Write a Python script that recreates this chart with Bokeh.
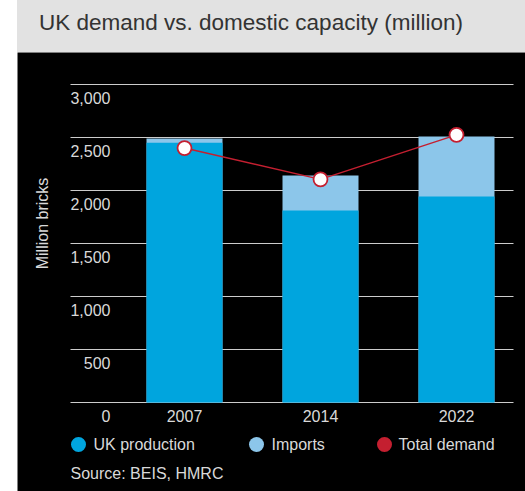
import math
from bokeh.plotting import figure
from bokeh.models import Div, Spacer, Range1d
from bokeh.layouts import row, column
from bokeh.embed import file_html
from bokeh.resources import INLINE
from bokeh.core.properties import value

# ---- data ----
years = ["2007", "2014", "2022"]
uk_production = [2450, 1811, 1943]
imports = [40, 331, 566]
total_demand = [2400, 2105, 2525]
y_ticks = [0, 500, 1000, 1500, 2000, 2500, 3000]
y_tick_labels = ["0", "500", "1,000", "1,500", "2,000", "2,500", "3,000"]
legend_labels = ["UK production", "Imports", "Total demand"]
title_text = "UK demand vs. domestic capacity (million)"
source_text = "Source: BEIS, HMRC"
y_label = "Million bricks"

# ---- style ----
PROD = "#00a5de"
IMP = "#8cc6ea"
RED = "#c41f30"
TXT = "#d9d9d9"
FONT = "Liberation Sans"

W, H = 508, 439
# pixel <-> data helpers (pixels relative to the whole 525x491 image)
X0PX, XSTEP = 184.0, 136.0      # centre of first category, spacing
Y0PX, YSCALE = 402.0, 0.106     # pixel of value 0, pixels per unit
LEFT, TOP = 17.0, 52.0

def px_x(px):
    return (px - X0PX) / XSTEP

def px_y(py):
    return (Y0PX - py) / YSCALE

xs = list(range(len(years)))
tops = [a + b for a, b in zip(uk_production, imports)]

p = figure(width=W, height=H,
           x_range=Range1d(px_x(LEFT), px_x(LEFT + W)),
           y_range=Range1d(px_y(TOP + H), px_y(TOP)),
           x_axis_location=None, y_axis_location=None,
           output_backend="svg", toolbar_location=None,
           min_border=0, margin=0)
p.grid.visible = False
p.outline_line_color = None
p.background_fill_color = "black"
p.border_fill_color = "black"

# gridlines
n = len(y_ticks)
p.segment(x0=[px_x(70)] * n, x1=[px_x(513)] * n, y0=y_ticks, y1=y_ticks,
          line_color="#cccccc", line_width=1)

# bars (imports stacked on production)
bw = 76 / XSTEP
p.vbar(x=xs, bottom=0, top=tops, width=bw, fill_color=IMP, line_color=None)
p.vbar(x=xs, bottom=0, top=uk_production, width=bw, fill_color=PROD, line_color=None)

# total demand
p.line(xs, total_demand, line_color=RED, line_width=1.5)
p.scatter(xs, total_demand, size=14, fill_color="white", line_color=RED, line_width=1.8)

font_kw = dict(text_font=value(FONT), text_color=TXT, text_font_size="16px")

# y tick labels (below each gridline)
p.text(x=[px_x(110)] * n, y=y_ticks, text=y_tick_labels, text_align="right",
       text_baseline="middle", y_offset=13, **font_kw)

# category labels
p.text(x=xs, y=[0] * len(xs), text=years, text_align="center",
       text_baseline="middle", y_offset=13, **font_kw)

# y axis label
p.text(x=[px_x(42)], y=[px_y(223)], text=[y_label], angle=math.pi / 2,
       text_align="center", text_baseline="middle", **font_kw)

# legend
leg_cx = [px_x(78), px_x(256), px_x(384)]
leg_tx = [px_x(93), px_x(271), px_x(398)]
leg_y = px_y(444)
p.scatter(leg_cx, [leg_y] * 3, size=15, fill_color=[PROD, IMP, RED], line_color=None)
p.text(x=leg_tx, y=[leg_y] * 3, text=legend_labels, text_align="left",
       text_baseline="middle", **font_kw)

# source
p.text(x=[px_x(70)], y=[px_y(473)], text=[source_text], text_align="left",
       text_baseline="middle", **font_kw)

title = Div(text=title_text, width=W, height=int(TOP), margin=0,
            styles={"background-color": "#e2e2e2", "color": "#333333",
                    "font-family": FONT, "font-size": "22.5px",
                    "padding-left": "22px", "line-height": "45px",
                    "box-sizing": "border-box"})

layout = row(Spacer(width=int(LEFT), height=491, margin=0),
             column(title, p, spacing=0, margin=0), spacing=0, margin=0)

open("out.html", "w").write(file_html(layout, INLINE))
